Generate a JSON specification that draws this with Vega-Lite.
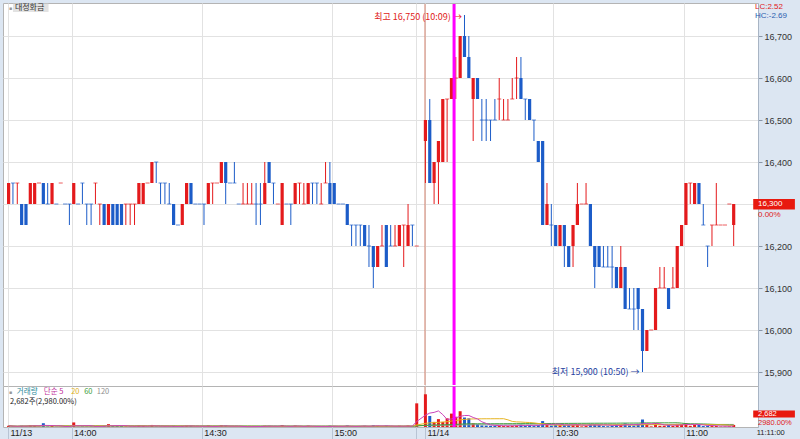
{
"$schema": "https://vega.github.io/schema/vega-lite/v6.json",
"background": "#dce6f2",
"padding": {"left": 2, "top": 2, "right": 0, "bottom": 0},
"spacing": 0,
"bounds": "flush",
"config": {"view": {"fill": "white", "stroke": "#b4b4b4", "strokeWidth": 1}, "font": "Liberation Sans"},
"datasets": {
"candles": [
{"i":0,"o":16300,"h":16350,"l":16300,"c":16350,"d":"u","v":1500},
{"i":1,"o":16350,"h":16350,"l":16300,"c":16350,"d":"d","v":700},
{"i":2,"o":16350,"h":16350,"l":16300,"c":16350,"d":"u","v":600},
{"i":3,"o":16300,"h":16300,"l":16250,"c":16250,"d":"d","v":1600},
{"i":4,"o":16300,"h":16300,"l":16250,"c":16250,"d":"d","v":1200},
{"i":5,"o":16300,"h":16350,"l":16300,"c":16350,"d":"u","v":2200},
{"i":6,"o":16300,"h":16350,"l":16300,"c":16350,"d":"u","v":1800},
{"i":7,"o":16350,"h":16350,"l":16350,"c":16350,"d":"u","v":300},
{"i":8,"o":16350,"h":16350,"l":16300,"c":16300,"d":"d","v":4800},
{"i":9,"o":16300,"h":16350,"l":16300,"c":16300,"d":"d","v":700},
{"i":10,"o":16300,"h":16350,"l":16300,"c":16350,"d":"u","v":1600},
{"i":11,"o":16300,"h":16300,"l":16300,"c":16300,"d":"d","v":300},
{"i":12,"o":16350,"h":16350,"l":16350,"c":16350,"d":"u","v":300},
{"i":13,"o":16300,"h":16300,"l":16300,"c":16300,"d":"d","v":300},
{"i":14,"o":16300,"h":16300,"l":16250,"c":16300,"d":"d","v":900},
{"i":15,"o":16300,"h":16350,"l":16300,"c":16350,"d":"u","v":5800},
{"i":16,"o":16300,"h":16300,"l":16300,"c":16300,"d":"d","v":400},
{"i":17,"o":16350,"h":16350,"l":16300,"c":16350,"d":"d","v":700},
{"i":18,"o":16300,"h":16300,"l":16250,"c":16300,"d":"d","v":600},
{"i":19,"o":16300,"h":16300,"l":16250,"c":16300,"d":"d","v":700},
{"i":20,"o":16350,"h":16350,"l":16300,"c":16350,"d":"u","v":1000},
{"i":21,"o":16300,"h":16300,"l":16250,"c":16300,"d":"u","v":800},
{"i":22,"o":16300,"h":16300,"l":16250,"c":16250,"d":"d","v":1500},
{"i":23,"o":16250,"h":16300,"l":16250,"c":16300,"d":"u","v":3600},
{"i":24,"o":16300,"h":16300,"l":16250,"c":16250,"d":"d","v":1200},
{"i":25,"o":16300,"h":16300,"l":16250,"c":16250,"d":"d","v":1500},
{"i":26,"o":16300,"h":16300,"l":16250,"c":16250,"d":"d","v":1300},
{"i":27,"o":16300,"h":16300,"l":16250,"c":16300,"d":"u","v":700},
{"i":28,"o":16300,"h":16300,"l":16250,"c":16300,"d":"u","v":600},
{"i":29,"o":16300,"h":16300,"l":16250,"c":16300,"d":"u","v":800},
{"i":30,"o":16300,"h":16350,"l":16300,"c":16350,"d":"u","v":1800},
{"i":31,"o":16300,"h":16350,"l":16300,"c":16350,"d":"u","v":1500},
{"i":32,"o":16350,"h":16350,"l":16350,"c":16350,"d":"u","v":300},
{"i":33,"o":16350,"h":16400,"l":16350,"c":16400,"d":"u","v":2600},
{"i":34,"o":16400,"h":16400,"l":16350,"c":16400,"d":"d","v":700},
{"i":35,"o":16350,"h":16350,"l":16300,"c":16350,"d":"d","v":600},
{"i":36,"o":16350,"h":16350,"l":16300,"c":16350,"d":"d","v":600},
{"i":37,"o":16300,"h":16350,"l":16300,"c":16300,"d":"d","v":700},
{"i":38,"o":16300,"h":16300,"l":16250,"c":16250,"d":"d","v":1600},
{"i":39,"o":16250,"h":16250,"l":16250,"c":16250,"d":"d","v":300},
{"i":40,"o":16250,"h":16300,"l":16250,"c":16300,"d":"u","v":1400},
{"i":41,"o":16300,"h":16350,"l":16300,"c":16350,"d":"u","v":1700},
{"i":42,"o":16350,"h":16350,"l":16300,"c":16300,"d":"d","v":1500},
{"i":43,"o":16300,"h":16300,"l":16300,"c":16300,"d":"d","v":300},
{"i":44,"o":16300,"h":16300,"l":16300,"c":16300,"d":"d","v":300},
{"i":45,"o":16300,"h":16300,"l":16250,"c":16300,"d":"d","v":700},
{"i":46,"o":16300,"h":16350,"l":16300,"c":16350,"d":"u","v":1900},
{"i":47,"o":16350,"h":16350,"l":16300,"c":16350,"d":"u","v":600},
{"i":48,"o":16350,"h":16350,"l":16350,"c":16350,"d":"u","v":300},
{"i":49,"o":16350,"h":16400,"l":16350,"c":16400,"d":"u","v":2200},
{"i":50,"o":16400,"h":16400,"l":16300,"c":16350,"d":"d","v":1800},
{"i":51,"o":16350,"h":16350,"l":16350,"c":16350,"d":"d","v":300},
{"i":52,"o":16350,"h":16400,"l":16350,"c":16350,"d":"d","v":600},
{"i":53,"o":16300,"h":16300,"l":16300,"c":16300,"d":"d","v":300},
{"i":54,"o":16300,"h":16350,"l":16300,"c":16300,"d":"u","v":500},
{"i":55,"o":16300,"h":16350,"l":16300,"c":16300,"d":"u","v":500},
{"i":56,"o":16300,"h":16350,"l":16300,"c":16300,"d":"u","v":600},
{"i":57,"o":16300,"h":16350,"l":16250,"c":16300,"d":"d","v":700},
{"i":58,"o":16300,"h":16350,"l":16250,"c":16300,"d":"d","v":700},
{"i":59,"o":16300,"h":16400,"l":16300,"c":16350,"d":"u","v":1600},
{"i":60,"o":16400,"h":16400,"l":16350,"c":16350,"d":"d","v":1500},
{"i":61,"o":16350,"h":16350,"l":16300,"c":16350,"d":"d","v":500},
{"i":62,"o":16300,"h":16300,"l":16300,"c":16300,"d":"u","v":300},
{"i":63,"o":16250,"h":16350,"l":16250,"c":16350,"d":"u","v":2400},
{"i":64,"o":16300,"h":16300,"l":16300,"c":16300,"d":"d","v":300},
{"i":65,"o":16300,"h":16300,"l":16250,"c":16300,"d":"d","v":600},
{"i":66,"o":16300,"h":16350,"l":16300,"c":16350,"d":"u","v":1800},
{"i":67,"o":16350,"h":16350,"l":16300,"c":16350,"d":"u","v":600},
{"i":68,"o":16300,"h":16350,"l":16300,"c":16300,"d":"u","v":500},
{"i":69,"o":16300,"h":16350,"l":16300,"c":16350,"d":"u","v":1700},
{"i":70,"o":16350,"h":16350,"l":16300,"c":16350,"d":"d","v":500},
{"i":71,"o":16350,"h":16350,"l":16300,"c":16350,"d":"d","v":500},
{"i":72,"o":16300,"h":16350,"l":16300,"c":16300,"d":"u","v":500},
{"i":73,"o":16350,"h":16400,"l":16350,"c":16350,"d":"u","v":600},
{"i":74,"o":16350,"h":16400,"l":16300,"c":16300,"d":"d","v":1700},
{"i":75,"o":16350,"h":16350,"l":16300,"c":16300,"d":"d","v":1400},
{"i":76,"o":16300,"h":16300,"l":16300,"c":16300,"d":"d","v":300},
{"i":77,"o":16300,"h":16300,"l":16300,"c":16300,"d":"d","v":300},
{"i":78,"o":16300,"h":16300,"l":16250,"c":16250,"d":"d","v":2000},
{"i":79,"o":16250,"h":16250,"l":16200,"c":16250,"d":"d","v":700},
{"i":80,"o":16250,"h":16250,"l":16200,"c":16250,"d":"d","v":600},
{"i":81,"o":16250,"h":16250,"l":16200,"c":16250,"d":"d","v":1200},
{"i":82,"o":16250,"h":16250,"l":16200,"c":16200,"d":"d","v":1500},
{"i":83,"o":16200,"h":16250,"l":16150,"c":16200,"d":"d","v":800},
{"i":84,"o":16200,"h":16200,"l":16100,"c":16150,"d":"d","v":2200},
{"i":85,"o":16150,"h":16200,"l":16150,"c":16200,"d":"u","v":1500},
{"i":86,"o":16200,"h":16250,"l":16200,"c":16200,"d":"u","v":600},
{"i":87,"o":16250,"h":16250,"l":16150,"c":16150,"d":"d","v":1800},
{"i":88,"o":16200,"h":16250,"l":16200,"c":16200,"d":"d","v":600},
{"i":89,"o":16200,"h":16250,"l":16200,"c":16200,"d":"u","v":600},
{"i":90,"o":16200,"h":16250,"l":16200,"c":16250,"d":"u","v":1600},
{"i":91,"o":16250,"h":16250,"l":16150,"c":16250,"d":"u","v":700},
{"i":92,"o":16200,"h":16300,"l":16200,"c":16250,"d":"u","v":1900},
{"i":93,"o":16250,"h":16250,"l":16200,"c":16250,"d":"d","v":700},
{"i":94,"o":16200,"h":16200,"l":16200,"c":16200,"d":"u","v":30000},
{"i":96,"o":16450,"h":16500,"l":16350,"c":16500,"d":"u","v":41500},
{"i":97,"o":16500,"h":16550,"l":16350,"c":16350,"d":"d","v":14000},
{"i":98,"o":16350,"h":16400,"l":16300,"c":16400,"d":"u","v":6500},
{"i":99,"o":16400,"h":16450,"l":16300,"c":16450,"d":"u","v":10000},
{"i":100,"o":16400,"h":16550,"l":16400,"c":16550,"d":"u","v":6500},
{"i":101,"o":16550,"h":16550,"l":16400,"c":16550,"d":"u","v":11000},
{"i":102,"o":16550,"h":16600,"l":16550,"c":16600,"d":"u","v":17000},
{"i":103,"o":16600,"h":16650,"l":16550,"c":16600,"d":"u","v":13000},
{"i":104,"o":16600,"h":16700,"l":16600,"c":16700,"d":"u","v":20000},
{"i":105,"o":16700,"h":16750,"l":16650,"c":16650,"d":"d","v":12000},
{"i":106,"o":16650,"h":16700,"l":16600,"c":16600,"d":"d","v":11000},
{"i":107,"o":16550,"h":16600,"l":16450,"c":16600,"d":"u","v":4500},
{"i":108,"o":16600,"h":16600,"l":16550,"c":16550,"d":"d","v":3500},
{"i":109,"o":16500,"h":16550,"l":16450,"c":16500,"d":"d","v":2000},
{"i":110,"o":16500,"h":16550,"l":16450,"c":16500,"d":"d","v":1800},
{"i":111,"o":16500,"h":16500,"l":16450,"c":16500,"d":"d","v":1500},
{"i":112,"o":16500,"h":16550,"l":16500,"c":16500,"d":"d","v":1500},
{"i":113,"o":16550,"h":16600,"l":16500,"c":16550,"d":"u","v":2000},
{"i":114,"o":16500,"h":16550,"l":16500,"c":16500,"d":"u","v":1200},
{"i":115,"o":16500,"h":16550,"l":16500,"c":16500,"d":"u","v":1300},
{"i":116,"o":16550,"h":16600,"l":16550,"c":16550,"d":"u","v":1500},
{"i":117,"o":16600,"h":16650,"l":16550,"c":16600,"d":"u","v":2000},
{"i":118,"o":16600,"h":16650,"l":16550,"c":16550,"d":"d","v":3000},
{"i":119,"o":16550,"h":16550,"l":16500,"c":16550,"d":"d","v":1500},
{"i":120,"o":16550,"h":16550,"l":16500,"c":16500,"d":"d","v":2500},
{"i":121,"o":16500,"h":16500,"l":16450,"c":16500,"d":"d","v":1200},
{"i":122,"o":16450,"h":16450,"l":16400,"c":16400,"d":"d","v":2500},
{"i":123,"o":16450,"h":16450,"l":16250,"c":16250,"d":"d","v":7500},
{"i":124,"o":16250,"h":16350,"l":16250,"c":16300,"d":"u","v":3500},
{"i":125,"o":16250,"h":16300,"l":16200,"c":16250,"d":"d","v":1800},
{"i":126,"o":16250,"h":16250,"l":16200,"c":16200,"d":"d","v":3000},
{"i":127,"o":16200,"h":16250,"l":16200,"c":16250,"d":"u","v":2500},
{"i":128,"o":16250,"h":16250,"l":16150,"c":16200,"d":"d","v":2500},
{"i":129,"o":16200,"h":16200,"l":16150,"c":16150,"d":"d","v":3000},
{"i":130,"o":16200,"h":16250,"l":16150,"c":16250,"d":"u","v":2500},
{"i":131,"o":16250,"h":16350,"l":16250,"c":16300,"d":"u","v":3500},
{"i":132,"o":16300,"h":16300,"l":16300,"c":16300,"d":"u","v":800},
{"i":133,"o":16300,"h":16350,"l":16300,"c":16300,"d":"u","v":1200},
{"i":134,"o":16300,"h":16300,"l":16200,"c":16200,"d":"d","v":4000},
{"i":135,"o":16200,"h":16200,"l":16100,"c":16150,"d":"d","v":3500},
{"i":136,"o":16200,"h":16200,"l":16150,"c":16150,"d":"d","v":3000},
{"i":137,"o":16150,"h":16200,"l":16150,"c":16150,"d":"d","v":1200},
{"i":138,"o":16150,"h":16200,"l":16150,"c":16150,"d":"d","v":1000},
{"i":139,"o":16150,"h":16200,"l":16100,"c":16150,"d":"d","v":1500},
{"i":140,"o":16150,"h":16150,"l":16100,"c":16100,"d":"d","v":3500},
{"i":141,"o":16100,"h":16200,"l":16100,"c":16150,"d":"u","v":3000},
{"i":142,"o":16150,"h":16150,"l":16050,"c":16050,"d":"d","v":4500},
{"i":143,"o":16050,"h":16100,"l":16050,"c":16050,"d":"d","v":2000},
{"i":144,"o":16050,"h":16100,"l":16000,"c":16050,"d":"d","v":1800},
{"i":145,"o":16100,"h":16100,"l":16000,"c":16050,"d":"d","v":4000},
{"i":146,"o":16050,"h":16050,"l":15900,"c":15950,"d":"d","v":9500},
{"i":147,"o":15950,"h":16000,"l":15950,"c":16000,"d":"u","v":4000},
{"i":148,"o":16000,"h":16000,"l":16000,"c":16000,"d":"u","v":800},
{"i":149,"o":16000,"h":16100,"l":16000,"c":16100,"d":"u","v":5000},
{"i":150,"o":16100,"h":16150,"l":16100,"c":16100,"d":"u","v":1500},
{"i":151,"o":16100,"h":16150,"l":16100,"c":16100,"d":"u","v":1500},
{"i":152,"o":16100,"h":16100,"l":16050,"c":16050,"d":"d","v":2500},
{"i":153,"o":16100,"h":16150,"l":16100,"c":16100,"d":"u","v":1500},
{"i":154,"o":16100,"h":16200,"l":16100,"c":16200,"d":"u","v":4000},
{"i":155,"o":16200,"h":16250,"l":16200,"c":16250,"d":"u","v":3500},
{"i":156,"o":16250,"h":16350,"l":16250,"c":16350,"d":"u","v":5000},
{"i":157,"o":16350,"h":16350,"l":16300,"c":16350,"d":"u","v":1500},
{"i":158,"o":16300,"h":16350,"l":16300,"c":16350,"d":"u","v":3000},
{"i":159,"o":16350,"h":16350,"l":16300,"c":16300,"d":"d","v":2500},
{"i":160,"o":16250,"h":16300,"l":16250,"c":16250,"d":"d","v":1200},
{"i":161,"o":16200,"h":16200,"l":16150,"c":16200,"d":"d","v":1500},
{"i":162,"o":16250,"h":16250,"l":16200,"c":16250,"d":"u","v":1200},
{"i":163,"o":16250,"h":16350,"l":16250,"c":16250,"d":"u","v":1500},
{"i":164,"o":16250,"h":16250,"l":16250,"c":16250,"d":"u","v":600},
{"i":165,"o":16250,"h":16250,"l":16250,"c":16250,"d":"u","v":600},
{"i":166,"o":16300,"h":16300,"l":16300,"c":16300,"d":"u","v":800},
{"i":167,"o":16250,"h":16300,"l":16200,"c":16300,"d":"u","v":2682}
]
},
"vconcat": [
{
"width": 755, "height": 383,
"layer": [
{"data": {"values": [{"x": 95.9, "y": 16776, "y2": 15869}]}, "mark": {"type": "rule", "color": "#d4826e", "strokeWidth": 1},
 "encoding": {"x": {"field": "x", "type": "quantitative", "scale": {"domain": [-0.14, 171.45], "nice": false, "zero": false}, "axis": {"values": [-0.14, 14.5, 44.5, 74.5, 93.9, 95.9, 125.5, 155.5], "labels": false, "ticks": false, "domain": false, "title": null, "grid": true, "gridColor": "#e2e2e2", "minExtent": 0, "maxExtent": 0}},
  "y": {"field": "y", "type": "quantitative", "scale": {"domain": [15866.7, 16778.6], "nice": false, "zero": false}, "axis": {"orient": "right", "values": [15900, 16000, 16100, 16200, 16300, 16400, 16500, 16600, 16700], "labelExpr": "datum.value == 16300 ? '' : format(datum.value, ',')", "title": null, "grid": true, "gridColor": "#e2e2e2", "tickSize": 4, "tickColor": "#8a96a6", "domainColor": "#a8b4c4", "labelFontSize": 9, "labelColor": "#333333", "labelPadding": 2, "minExtent": 43, "maxExtent": 43}},
  "y2": {"field": "y2"}}},
{"data": {"name": "candles"}, "mark": {"type": "rule", "strokeWidth": 1},
 "encoding": {
  "x": {"field": "i", "type": "quantitative", "scale": {"domain": [-0.14, 171.45], "nice": false, "zero": false}, "axis": {"values": [-0.14, 14.5, 44.5, 74.5, 93.9, 95.9, 125.5, 155.5], "labels": false, "ticks": false, "domain": false, "title": null, "grid": true, "gridColor": "#e2e2e2", "minExtent": 0, "maxExtent": 0}},
  "y": {"field": "l", "type": "quantitative", "scale": {"domain": [15866.7, 16778.6], "nice": false, "zero": false}, "axis": {"orient": "right", "values": [15900, 16000, 16100, 16200, 16300, 16400, 16500, 16600, 16700], "labelExpr": "datum.value == 16300 ? '' : format(datum.value, ',')", "title": null, "grid": true, "gridColor": "#e2e2e2", "tickSize": 4, "tickColor": "#8a96a6", "domainColor": "#a8b4c4", "labelFontSize": 9, "labelColor": "#333333", "labelPadding": 2, "minExtent": 43, "maxExtent": 43}},
  "y2": {"field": "h"},
  "color": {"field": "d", "type": "nominal", "scale": {"domain": ["u", "d"], "range": ["#e41a1c", "#1c5cc8"]}, "legend": null}}},
{"data": {"name": "candles"}, "transform": [{"filter": "datum.o != datum.c"}], "mark": {"type": "bar", "size": 3.2},
 "encoding": {
  "x": {"field": "i", "type": "quantitative", "scale": {"domain": [-0.14, 171.45], "nice": false, "zero": false}, "axis": {"values": [-0.14, 14.5, 44.5, 74.5, 93.9, 95.9, 125.5, 155.5], "labels": false, "ticks": false, "domain": false, "title": null, "grid": true, "gridColor": "#e2e2e2", "minExtent": 0, "maxExtent": 0}},
  "y": {"field": "o", "type": "quantitative", "scale": {"domain": [15866.7, 16778.6], "nice": false, "zero": false}, "axis": {"orient": "right", "values": [15900, 16000, 16100, 16200, 16300, 16400, 16500, 16600, 16700], "labelExpr": "datum.value == 16300 ? '' : format(datum.value, ',')", "title": null, "grid": true, "gridColor": "#e2e2e2", "tickSize": 4, "tickColor": "#8a96a6", "domainColor": "#a8b4c4", "labelFontSize": 9, "labelColor": "#333333", "labelPadding": 2, "minExtent": 43, "maxExtent": 43}},
  "y2": {"field": "c"},
  "color": {"field": "d", "type": "nominal", "scale": {"domain": ["u", "d"], "range": ["#e41a1c", "#1c5cc8"]}, "legend": null}}},
{"data": {"name": "candles"}, "transform": [{"filter": "datum.o == datum.c"}], "mark": {"type": "tick", "orient": "horizontal", "size": 4, "thickness": 1},
 "encoding": {
  "x": {"field": "i", "type": "quantitative", "scale": {"domain": [-0.14, 171.45], "nice": false, "zero": false}, "axis": {"values": [-0.14, 14.5, 44.5, 74.5, 93.9, 95.9, 125.5, 155.5], "labels": false, "ticks": false, "domain": false, "title": null, "grid": true, "gridColor": "#e2e2e2", "minExtent": 0, "maxExtent": 0}},
  "y": {"field": "o", "type": "quantitative", "scale": {"domain": [15866.7, 16778.6], "nice": false, "zero": false}, "axis": {"orient": "right", "values": [15900, 16000, 16100, 16200, 16300, 16400, 16500, 16600, 16700], "labelExpr": "datum.value == 16300 ? '' : format(datum.value, ',')", "title": null, "grid": true, "gridColor": "#e2e2e2", "tickSize": 4, "tickColor": "#8a96a6", "domainColor": "#a8b4c4", "labelFontSize": 9, "labelColor": "#333333", "labelPadding": 2, "minExtent": 43, "maxExtent": 43}},
  "color": {"field": "d", "type": "nominal", "scale": {"domain": ["u", "d"], "range": ["#e41a1c", "#1c5cc8"]}, "legend": null}}},
{"data": {"values": [{"x": 1.0, "x2": 9.2, "y": 16777, "y2": 16757}]}, "mark": {"type": "rect", "color": "#e2e2e2"},
 "encoding": {"x": {"field": "x", "type": "quantitative", "scale": {"domain": [-0.14, 171.45], "nice": false, "zero": false}, "axis": {"values": [-0.14, 14.5, 44.5, 74.5, 93.9, 95.9, 125.5, 155.5], "labels": false, "ticks": false, "domain": false, "title": null, "grid": true, "gridColor": "#e2e2e2", "minExtent": 0, "maxExtent": 0}},
  "x2": {"field": "x2"},
  "y": {"field": "y", "type": "quantitative", "scale": {"domain": [15866.7, 16778.6], "nice": false, "zero": false}, "axis": {"orient": "right", "values": [15900, 16000, 16100, 16200, 16300, 16400, 16500, 16600, 16700], "labelExpr": "datum.value == 16300 ? '' : format(datum.value, ',')", "title": null, "grid": true, "gridColor": "#e2e2e2", "tickSize": 4, "tickColor": "#8a96a6", "domainColor": "#a8b4c4", "labelFontSize": 9, "labelColor": "#333333", "labelPadding": 2, "minExtent": 43, "maxExtent": 43}},
  "y2": {"field": "y2"}}},
{"data": {"values": [{"x": 171.5, "x2": 181.1, "y": 16312, "y2": 16287}]}, "mark": {"type": "rect", "color": "#e8190f"},
 "encoding": {"x": {"field": "x", "type": "quantitative", "scale": {"domain": [-0.14, 171.45], "nice": false, "zero": false}, "axis": {"values": [-0.14, 14.5, 44.5, 74.5, 93.9, 95.9, 125.5, 155.5], "labels": false, "ticks": false, "domain": false, "title": null, "grid": true, "gridColor": "#e2e2e2", "minExtent": 0, "maxExtent": 0}},
  "x2": {"field": "x2"},
  "y": {"field": "y", "type": "quantitative", "scale": {"domain": [15866.7, 16778.6], "nice": false, "zero": false}, "axis": {"orient": "right", "values": [15900, 16000, 16100, 16200, 16300, 16400, 16500, 16600, 16700], "labelExpr": "datum.value == 16300 ? '' : format(datum.value, ',')", "title": null, "grid": true, "gridColor": "#e2e2e2", "tickSize": 4, "tickColor": "#8a96a6", "domainColor": "#a8b4c4", "labelFontSize": 9, "labelColor": "#333333", "labelPadding": 2, "minExtent": 43, "maxExtent": 43}},
  "y2": {"field": "y2"}}},
{"data": {"values": [
  {"t": "최고 16,750 (10:09) →", "x": 104.4, "y": 16745, "k": "hi"},
  {"t": "최저 15,900 (10:50) →", "x": 145.3, "y": 15900, "k": "lo"}
 ]},
 "mark": {"type": "text", "align": "right", "baseline": "middle", "fontSize": 9, "font": "Noto Sans CJK KR"},
 "encoding": {"x": {"field": "x", "type": "quantitative", "scale": {"domain": [-0.14, 171.45], "nice": false, "zero": false}, "axis": {"values": [-0.14, 14.5, 44.5, 74.5, 93.9, 95.9, 125.5, 155.5], "labels": false, "ticks": false, "domain": false, "title": null, "grid": true, "gridColor": "#e2e2e2", "minExtent": 0, "maxExtent": 0}},
  "y": {"field": "y", "type": "quantitative", "scale": {"domain": [15866.7, 16778.6], "nice": false, "zero": false}, "axis": {"orient": "right", "values": [15900, 16000, 16100, 16200, 16300, 16400, 16500, 16600, 16700], "labelExpr": "datum.value == 16300 ? '' : format(datum.value, ',')", "title": null, "grid": true, "gridColor": "#e2e2e2", "tickSize": 4, "tickColor": "#8a96a6", "domainColor": "#a8b4c4", "labelFontSize": 9, "labelColor": "#333333", "labelPadding": 2, "minExtent": 43, "maxExtent": 43}},
  "text": {"field": "t"},
  "color": {"field": "k", "type": "nominal", "scale": {"domain": ["hi", "lo"], "range": ["#e02020", "#1f3f9f"]}, "legend": null}}},
{"data": {"values": [
  {"t": "대정화금", "x": 1.45, "y": 16766, "k": "name"}
 ]},
 "mark": {"type": "text", "align": "left", "baseline": "middle", "fontSize": 8, "font": "Noto Sans CJK KR"},
 "encoding": {"x": {"field": "x", "type": "quantitative", "scale": {"domain": [-0.14, 171.45], "nice": false, "zero": false}, "axis": {"values": [-0.14, 14.5, 44.5, 74.5, 93.9, 95.9, 125.5, 155.5], "labels": false, "ticks": false, "domain": false, "title": null, "grid": true, "gridColor": "#e2e2e2", "minExtent": 0, "maxExtent": 0}},
  "y": {"field": "y", "type": "quantitative", "scale": {"domain": [15866.7, 16778.6], "nice": false, "zero": false}, "axis": {"orient": "right", "values": [15900, 16000, 16100, 16200, 16300, 16400, 16500, 16600, 16700], "labelExpr": "datum.value == 16300 ? '' : format(datum.value, ',')", "title": null, "grid": true, "gridColor": "#e2e2e2", "tickSize": 4, "tickColor": "#8a96a6", "domainColor": "#a8b4c4", "labelFontSize": 9, "labelColor": "#333333", "labelPadding": 2, "minExtent": 43, "maxExtent": 43}},
  "text": {"field": "t"},
  "color": {"field": "k", "type": "nominal", "scale": {"domain": ["name"], "range": ["#333333"]}, "legend": null}}},
{"data": {"values": [
  {"t": "LC:2.52", "x": 171.9, "y": 16769.5, "k": "hi"},
  {"t": "HC:-2.69", "x": 171.9, "y": 16747, "k": "lc"},
  {"t": "16,300", "x": 172.6, "y": 16299, "k": "box"},
  {"t": "0.00%", "x": 172.6, "y": 16275, "k": "hi"}
 ]},
 "mark": {"type": "text", "align": "left", "baseline": "middle", "fontSize": 8, "font": "Liberation Sans"},
 "encoding": {"x": {"field": "x", "type": "quantitative", "scale": {"domain": [-0.14, 171.45], "nice": false, "zero": false}, "axis": {"values": [-0.14, 14.5, 44.5, 74.5, 93.9, 95.9, 125.5, 155.5], "labels": false, "ticks": false, "domain": false, "title": null, "grid": true, "gridColor": "#e2e2e2", "minExtent": 0, "maxExtent": 0}},
  "y": {"field": "y", "type": "quantitative", "scale": {"domain": [15866.7, 16778.6], "nice": false, "zero": false}, "axis": {"orient": "right", "values": [15900, 16000, 16100, 16200, 16300, 16400, 16500, 16600, 16700], "labelExpr": "datum.value == 16300 ? '' : format(datum.value, ',')", "title": null, "grid": true, "gridColor": "#e2e2e2", "tickSize": 4, "tickColor": "#8a96a6", "domainColor": "#a8b4c4", "labelFontSize": 9, "labelColor": "#333333", "labelPadding": 2, "minExtent": 43, "maxExtent": 43}},
  "text": {"field": "t"},
  "color": {"field": "k", "type": "nominal", "scale": {"domain": ["hi", "lc", "box"], "range": ["#e02020", "#2a5db0", "#ffffff"]}, "legend": null}}},
{"data": {"values": [{"t": "■", "x": 0.1, "y": 16767}]},
 "mark": {"type": "text", "align": "left", "baseline": "middle", "fontSize": 5, "color": "#999999"},
 "encoding": {"x": {"field": "x", "type": "quantitative", "scale": {"domain": [-0.14, 171.45], "nice": false, "zero": false}, "axis": {"values": [-0.14, 14.5, 44.5, 74.5, 93.9, 95.9, 125.5, 155.5], "labels": false, "ticks": false, "domain": false, "title": null, "grid": true, "gridColor": "#e2e2e2", "minExtent": 0, "maxExtent": 0}},
  "y": {"field": "y", "type": "quantitative", "scale": {"domain": [15866.7, 16778.6], "nice": false, "zero": false}, "axis": {"orient": "right", "values": [15900, 16000, 16100, 16200, 16300, 16400, 16500, 16600, 16700], "labelExpr": "datum.value == 16300 ? '' : format(datum.value, ',')", "title": null, "grid": true, "gridColor": "#e2e2e2", "tickSize": 4, "tickColor": "#8a96a6", "domainColor": "#a8b4c4", "labelFontSize": 9, "labelColor": "#333333", "labelPadding": 2, "minExtent": 43, "maxExtent": 43}},
  "text": {"field": "t"}}},
{"data": {"values": [{"x": 102.6, "y": 16776, "y2": 15869}]}, "mark": {"type": "rule", "color": "#ff00ff", "strokeWidth": 3},
 "encoding": {"x": {"field": "x", "type": "quantitative", "scale": {"domain": [-0.14, 171.45], "nice": false, "zero": false}, "axis": {"values": [-0.14, 14.5, 44.5, 74.5, 93.9, 95.9, 125.5, 155.5], "labels": false, "ticks": false, "domain": false, "title": null, "grid": true, "gridColor": "#e2e2e2", "minExtent": 0, "maxExtent": 0}},
  "y": {"field": "y", "type": "quantitative", "scale": {"domain": [15866.7, 16778.6], "nice": false, "zero": false}, "axis": {"orient": "right", "values": [15900, 16000, 16100, 16200, 16300, 16400, 16500, 16600, 16700], "labelExpr": "datum.value == 16300 ? '' : format(datum.value, ',')", "title": null, "grid": true, "gridColor": "#e2e2e2", "tickSize": 4, "tickColor": "#8a96a6", "domainColor": "#a8b4c4", "labelFontSize": 9, "labelColor": "#333333", "labelPadding": 2, "minExtent": 43, "maxExtent": 43}},
  "y2": {"field": "y2"}}}
],
"resolve": {"scale": {"color": "independent"}}
},
{
"width": 755, "height": 41,
"layer": [
{"data": {"values": [{"x": 95.9, "y": 51500, "y2": 0}]}, "mark": {"type": "rule", "color": "#d4826e", "strokeWidth": 1},
 "encoding": {"x": {"field": "x", "type": "quantitative", "scale": {"domain": [-0.14, 171.45], "nice": false, "zero": false},
   "axis": {"values": [-0.14, 14.5, 44.5, 74.5, 93.9, 95.9, 125.5, 155.5], "labelExpr": "datum.value < 0 ? '11/13' : datum.value == 14.5 ? '14:00' : datum.value == 44.5 ? '14:30' : datum.value == 74.5 ? '15:00' : datum.value == 95.9 ? '11/14' : datum.value == 125.5 ? '10:30' : datum.value == 155.5 ? '11:00' : ''", "labelAlign": "left", "labelBaseline": "top", "labelPadding": -11, "labelOffset": 2, "tickSize": 12, "tickColor": "#b8c4d4", "domain": false, "grid": true, "gridColor": "#e2e2e2", "labelFontSize": 9, "labelColor": "#222222", "labelFlush": false, "labelOverlap": false, "title": null, "minExtent": 13, "maxExtent": 13}},
  "y": {"field": "y", "type": "quantitative", "scale": {"domain": [0, 52000], "nice": false},
   "axis": {"orient": "right", "labels": false, "ticks": false, "grid": false, "title": null, "domainColor": "#a8b4c4", "minExtent": 43, "maxExtent": 43}},
  "y2": {"field": "y2"}}},
{"data": {"name": "candles"}, "mark": {"type": "bar", "size": 3},
 "encoding": {
  "x": {"field": "i", "type": "quantitative", "scale": {"domain": [-0.14, 171.45], "nice": false, "zero": false},
   "axis": {"values": [-0.14, 14.5, 44.5, 74.5, 93.9, 95.9, 125.5, 155.5], "labelExpr": "datum.value < 0 ? '11/13' : datum.value == 14.5 ? '14:00' : datum.value == 44.5 ? '14:30' : datum.value == 74.5 ? '15:00' : datum.value == 95.9 ? '11/14' : datum.value == 125.5 ? '10:30' : datum.value == 155.5 ? '11:00' : ''", "labelAlign": "left", "labelBaseline": "top", "labelPadding": -11, "labelOffset": 2, "tickSize": 12, "tickColor": "#b8c4d4", "domain": false, "grid": true, "gridColor": "#e2e2e2", "labelFontSize": 9, "labelColor": "#222222", "labelFlush": false, "labelOverlap": false, "title": null, "minExtent": 13, "maxExtent": 13}},
  "y": {"field": "v", "type": "quantitative", "scale": {"domain": [0, 52000], "nice": false},
   "axis": {"orient": "right", "labels": false, "ticks": false, "grid": false, "title": null, "domainColor": "#a8b4c4", "minExtent": 43, "maxExtent": 43}},
  "color": {"field": "d", "type": "nominal", "scale": {"domain": ["u", "d"], "range": ["#e41a1c", "#1c5cc8"]}, "legend": null}}},
{"data": {"name": "candles"}, "transform": [{"window": [{"op": "mean", "field": "v", "as": "ma"}], "frame": [-119, 0], "sort": [{"field": "i"}]}],
 "mark": {"type": "line", "color": "#a0a0a0", "strokeWidth": 1},
 "encoding": {"x": {"field": "i", "type": "quantitative", "scale": {"domain": [-0.14, 171.45], "nice": false, "zero": false},
   "axis": {"values": [-0.14, 14.5, 44.5, 74.5, 93.9, 95.9, 125.5, 155.5], "labelExpr": "datum.value < 0 ? '11/13' : datum.value == 14.5 ? '14:00' : datum.value == 44.5 ? '14:30' : datum.value == 74.5 ? '15:00' : datum.value == 95.9 ? '11/14' : datum.value == 125.5 ? '10:30' : datum.value == 155.5 ? '11:00' : ''", "labelAlign": "left", "labelBaseline": "top", "labelPadding": -11, "labelOffset": 2, "tickSize": 12, "tickColor": "#b8c4d4", "domain": false, "grid": true, "gridColor": "#e2e2e2", "labelFontSize": 9, "labelColor": "#222222", "labelFlush": false, "labelOverlap": false, "title": null, "minExtent": 13, "maxExtent": 13}},
  "y": {"field": "ma", "type": "quantitative", "scale": {"domain": [0, 52000], "nice": false},
   "axis": {"orient": "right", "labels": false, "ticks": false, "grid": false, "title": null, "domainColor": "#a8b4c4", "minExtent": 43, "maxExtent": 43}}}},
{"data": {"name": "candles"}, "transform": [{"window": [{"op": "mean", "field": "v", "as": "ma"}], "frame": [-59, 0], "sort": [{"field": "i"}]}],
 "mark": {"type": "line", "color": "#3c9e3c", "strokeWidth": 1},
 "encoding": {"x": {"field": "i", "type": "quantitative", "scale": {"domain": [-0.14, 171.45], "nice": false, "zero": false},
   "axis": {"values": [-0.14, 14.5, 44.5, 74.5, 93.9, 95.9, 125.5, 155.5], "labelExpr": "datum.value < 0 ? '11/13' : datum.value == 14.5 ? '14:00' : datum.value == 44.5 ? '14:30' : datum.value == 74.5 ? '15:00' : datum.value == 95.9 ? '11/14' : datum.value == 125.5 ? '10:30' : datum.value == 155.5 ? '11:00' : ''", "labelAlign": "left", "labelBaseline": "top", "labelPadding": -11, "labelOffset": 2, "tickSize": 12, "tickColor": "#b8c4d4", "domain": false, "grid": true, "gridColor": "#e2e2e2", "labelFontSize": 9, "labelColor": "#222222", "labelFlush": false, "labelOverlap": false, "title": null, "minExtent": 13, "maxExtent": 13}},
  "y": {"field": "ma", "type": "quantitative", "scale": {"domain": [0, 52000], "nice": false},
   "axis": {"orient": "right", "labels": false, "ticks": false, "grid": false, "title": null, "domainColor": "#a8b4c4", "minExtent": 43, "maxExtent": 43}}}},
{"data": {"name": "candles"}, "transform": [{"window": [{"op": "mean", "field": "v", "as": "ma"}], "frame": [-19, 0], "sort": [{"field": "i"}]}],
 "mark": {"type": "line", "color": "#e6b422", "strokeWidth": 1},
 "encoding": {"x": {"field": "i", "type": "quantitative", "scale": {"domain": [-0.14, 171.45], "nice": false, "zero": false},
   "axis": {"values": [-0.14, 14.5, 44.5, 74.5, 93.9, 95.9, 125.5, 155.5], "labelExpr": "datum.value < 0 ? '11/13' : datum.value == 14.5 ? '14:00' : datum.value == 44.5 ? '14:30' : datum.value == 74.5 ? '15:00' : datum.value == 95.9 ? '11/14' : datum.value == 125.5 ? '10:30' : datum.value == 155.5 ? '11:00' : ''", "labelAlign": "left", "labelBaseline": "top", "labelPadding": -11, "labelOffset": 2, "tickSize": 12, "tickColor": "#b8c4d4", "domain": false, "grid": true, "gridColor": "#e2e2e2", "labelFontSize": 9, "labelColor": "#222222", "labelFlush": false, "labelOverlap": false, "title": null, "minExtent": 13, "maxExtent": 13}},
  "y": {"field": "ma", "type": "quantitative", "scale": {"domain": [0, 52000], "nice": false},
   "axis": {"orient": "right", "labels": false, "ticks": false, "grid": false, "title": null, "domainColor": "#a8b4c4", "minExtent": 43, "maxExtent": 43}}}},
{"data": {"name": "candles"}, "transform": [{"window": [{"op": "mean", "field": "v", "as": "ma"}], "frame": [-4, 0], "sort": [{"field": "i"}]}],
 "mark": {"type": "line", "color": "#cc44bb", "strokeWidth": 1},
 "encoding": {"x": {"field": "i", "type": "quantitative", "scale": {"domain": [-0.14, 171.45], "nice": false, "zero": false},
   "axis": {"values": [-0.14, 14.5, 44.5, 74.5, 93.9, 95.9, 125.5, 155.5], "labelExpr": "datum.value < 0 ? '11/13' : datum.value == 14.5 ? '14:00' : datum.value == 44.5 ? '14:30' : datum.value == 74.5 ? '15:00' : datum.value == 95.9 ? '11/14' : datum.value == 125.5 ? '10:30' : datum.value == 155.5 ? '11:00' : ''", "labelAlign": "left", "labelBaseline": "top", "labelPadding": -11, "labelOffset": 2, "tickSize": 12, "tickColor": "#b8c4d4", "domain": false, "grid": true, "gridColor": "#e2e2e2", "labelFontSize": 9, "labelColor": "#222222", "labelFlush": false, "labelOverlap": false, "title": null, "minExtent": 13, "maxExtent": 13}},
  "y": {"field": "ma", "type": "quantitative", "scale": {"domain": [0, 52000], "nice": false},
   "axis": {"orient": "right", "labels": false, "ticks": false, "grid": false, "title": null, "domainColor": "#a8b4c4", "minExtent": 43, "maxExtent": 43}}}},
{"data": {"values": [{"x": 102.6, "y": 51500, "y2": 0}]}, "mark": {"type": "rule", "color": "#ff00ff", "strokeWidth": 3},
 "encoding": {"x": {"field": "x", "type": "quantitative", "scale": {"domain": [-0.14, 171.45], "nice": false, "zero": false},
   "axis": {"values": [-0.14, 14.5, 44.5, 74.5, 93.9, 95.9, 125.5, 155.5], "labelExpr": "datum.value < 0 ? '11/13' : datum.value == 14.5 ? '14:00' : datum.value == 44.5 ? '14:30' : datum.value == 74.5 ? '15:00' : datum.value == 95.9 ? '11/14' : datum.value == 125.5 ? '10:30' : datum.value == 155.5 ? '11:00' : ''", "labelAlign": "left", "labelBaseline": "top", "labelPadding": -11, "labelOffset": 2, "tickSize": 12, "tickColor": "#b8c4d4", "domain": false, "grid": true, "gridColor": "#e2e2e2", "labelFontSize": 9, "labelColor": "#222222", "labelFlush": false, "labelOverlap": false, "title": null, "minExtent": 13, "maxExtent": 13}},
  "y": {"field": "y", "type": "quantitative", "scale": {"domain": [0, 52000], "nice": false},
   "axis": {"orient": "right", "labels": false, "ticks": false, "grid": false, "title": null, "domainColor": "#a8b4c4", "minExtent": 43, "maxExtent": 43}},
  "y2": {"field": "y2"}}},
{"data": {"values": [{"x": 171.5, "x2": 181.1, "y": 20800, "y2": 11900}]}, "mark": {"type": "rect", "color": "#e8190f"},
 "encoding": {"x": {"field": "x", "type": "quantitative", "scale": {"domain": [-0.14, 171.45], "nice": false, "zero": false},
   "axis": {"values": [-0.14, 14.5, 44.5, 74.5, 93.9, 95.9, 125.5, 155.5], "labelExpr": "datum.value < 0 ? '11/13' : datum.value == 14.5 ? '14:00' : datum.value == 44.5 ? '14:30' : datum.value == 74.5 ? '15:00' : datum.value == 95.9 ? '11/14' : datum.value == 125.5 ? '10:30' : datum.value == 155.5 ? '11:00' : ''", "labelAlign": "left", "labelBaseline": "top", "labelPadding": -11, "labelOffset": 2, "tickSize": 12, "tickColor": "#b8c4d4", "domain": false, "grid": true, "gridColor": "#e2e2e2", "labelFontSize": 9, "labelColor": "#222222", "labelFlush": false, "labelOverlap": false, "title": null, "minExtent": 13, "maxExtent": 13}},
  "x2": {"field": "x2"},
  "y": {"field": "y", "type": "quantitative", "scale": {"domain": [0, 52000], "nice": false},
   "axis": {"orient": "right", "labels": false, "ticks": false, "grid": false, "title": null, "domainColor": "#a8b4c4", "minExtent": 43, "maxExtent": 43}},
  "y2": {"field": "y2"}}},
{"data": {"values": [{"t": "■", "x": 0.1, "y": 44400}]}, "mark": {"type": "text", "align": "left", "baseline": "middle", "fontSize": 5, "color": "#999999"},
 "encoding": {"x": {"field": "x", "type": "quantitative", "scale": {"domain": [-0.14, 171.45], "nice": false, "zero": false},
   "axis": {"values": [-0.14, 14.5, 44.5, 74.5, 93.9, 95.9, 125.5, 155.5], "labelExpr": "datum.value < 0 ? '11/13' : datum.value == 14.5 ? '14:00' : datum.value == 44.5 ? '14:30' : datum.value == 74.5 ? '15:00' : datum.value == 95.9 ? '11/14' : datum.value == 125.5 ? '10:30' : datum.value == 155.5 ? '11:00' : ''", "labelAlign": "left", "labelBaseline": "top", "labelPadding": -11, "labelOffset": 2, "tickSize": 12, "tickColor": "#b8c4d4", "domain": false, "grid": true, "gridColor": "#e2e2e2", "labelFontSize": 9, "labelColor": "#222222", "labelFlush": false, "labelOverlap": false, "title": null, "minExtent": 13, "maxExtent": 13}},
  "y": {"field": "y", "type": "quantitative", "scale": {"domain": [0, 52000], "nice": false},
   "axis": {"orient": "right", "labels": false, "ticks": false, "grid": false, "title": null, "domainColor": "#a8b4c4", "minExtent": 43, "maxExtent": 43}},
  "text": {"field": "t"}}},
{"data": {"values": [
  {"t": "거래량", "x": 1.9, "y": 44400, "k": "vol"},
  {"t": "단순 5", "x": 8.1, "y": 44400, "k": "ma5"},
  {"t": "20", "x": 14.4, "y": 44400, "k": "ma20"},
  {"t": "60", "x": 17.4, "y": 44400, "k": "ma60"},
  {"t": "120", "x": 20.3, "y": 44400, "k": "ma120"},
  {"t": "2,682주(2,980.00%)", "x": 0.3, "y": 32000, "k": "info"}
 ]}, "mark": {"type": "text", "align": "left", "baseline": "middle", "fontSize": 7.5, "font": "Noto Sans CJK KR"},
 "encoding": {"x": {"field": "x", "type": "quantitative", "scale": {"domain": [-0.14, 171.45], "nice": false, "zero": false},
   "axis": {"values": [-0.14, 14.5, 44.5, 74.5, 93.9, 95.9, 125.5, 155.5], "labelExpr": "datum.value < 0 ? '11/13' : datum.value == 14.5 ? '14:00' : datum.value == 44.5 ? '14:30' : datum.value == 74.5 ? '15:00' : datum.value == 95.9 ? '11/14' : datum.value == 125.5 ? '10:30' : datum.value == 155.5 ? '11:00' : ''", "labelAlign": "left", "labelBaseline": "top", "labelPadding": -11, "labelOffset": 2, "tickSize": 12, "tickColor": "#b8c4d4", "domain": false, "grid": true, "gridColor": "#e2e2e2", "labelFontSize": 9, "labelColor": "#222222", "labelFlush": false, "labelOverlap": false, "title": null, "minExtent": 13, "maxExtent": 13}},
  "y": {"field": "y", "type": "quantitative", "scale": {"domain": [0, 52000], "nice": false},
   "axis": {"orient": "right", "labels": false, "ticks": false, "grid": false, "title": null, "domainColor": "#a8b4c4", "minExtent": 43, "maxExtent": 43}},
  "text": {"field": "t"},
  "color": {"field": "k", "type": "nominal", "scale": {"domain": ["vol", "ma5", "ma20", "ma60", "ma120", "info"], "range": ["#2e8b9a", "#c0309a", "#e0b020", "#3c9e3c", "#909090", "#222222"]}, "legend": null}}},
{"data": {"values": [
  {"t": "2,682", "x": 172.6, "y": 16400, "k": "box"},
  {"t": "2980.00%", "x": 172.6, "y": 4800, "k": "pct"},
  {"t": "11:11:00", "x": 172.3, "y": -8240, "k": "info"}
 ]}, "mark": {"type": "text", "align": "left", "baseline": "middle", "fontSize": 7.5, "font": "Liberation Sans"},
 "encoding": {"x": {"field": "x", "type": "quantitative", "scale": {"domain": [-0.14, 171.45], "nice": false, "zero": false},
   "axis": {"values": [-0.14, 14.5, 44.5, 74.5, 93.9, 95.9, 125.5, 155.5], "labelExpr": "datum.value < 0 ? '11/13' : datum.value == 14.5 ? '14:00' : datum.value == 44.5 ? '14:30' : datum.value == 74.5 ? '15:00' : datum.value == 95.9 ? '11/14' : datum.value == 125.5 ? '10:30' : datum.value == 155.5 ? '11:00' : ''", "labelAlign": "left", "labelBaseline": "top", "labelPadding": -11, "labelOffset": 2, "tickSize": 12, "tickColor": "#b8c4d4", "domain": false, "grid": true, "gridColor": "#e2e2e2", "labelFontSize": 9, "labelColor": "#222222", "labelFlush": false, "labelOverlap": false, "title": null, "minExtent": 13, "maxExtent": 13}},
  "y": {"field": "y", "type": "quantitative", "scale": {"domain": [0, 52000], "nice": false},
   "axis": {"orient": "right", "labels": false, "ticks": false, "grid": false, "title": null, "domainColor": "#a8b4c4", "minExtent": 43, "maxExtent": 43}},
  "text": {"field": "t"},
  "color": {"field": "k", "type": "nominal", "scale": {"domain": ["info", "pct", "box"], "range": ["#222222", "#e02020", "#ffffff"]}, "legend": null}}}
],
"resolve": {"scale": {"color": "independent"}}
}
]
}
